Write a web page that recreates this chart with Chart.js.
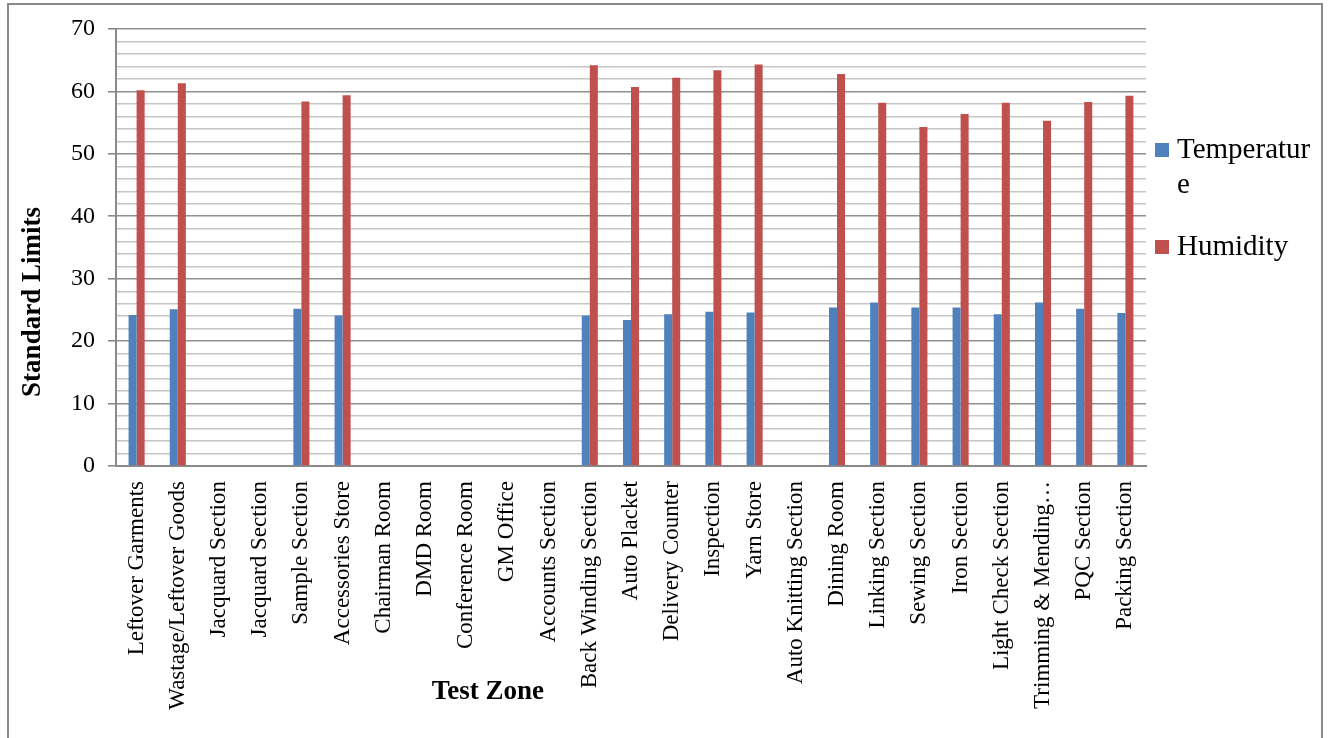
<!DOCTYPE html>
<html>
<head>
<meta charset="utf-8">
<script src="https://cdn.jsdelivr.net/npm/chart.js@4.4.1/dist/chart.umd.min.js"></script>
<style>
  html, body { margin: 0; padding: 0; background: #fff; }
  canvas { display: block; }
</style>
</head>
<body>
<canvas id="limitsChart" width="1331" height="738"></canvas>
<script>
const zones = [
    'Leftover Garments', 'Wastage/Leftover Goods', 'Jacquard Section', 'Jacquard Section',
    'Sample Section', 'Accessories Store', 'Chairman Room', 'DMD Room', 'Conference Room',
    'GM Office', 'Accounts Section', 'Back Winding Section', 'Auto Placket', 'Delivery Counter',
    'Inspection', 'Yarn Store', 'Auto Knitting Section', 'Dining Room', 'Linking Section',
    'Sewing Section', 'Iron Section', 'Light Check Section', 'Trimming & Mending…',
    'PQC Section', 'Packing Section'
];
const temperature = [
    24.2, 25.1, null, null, 25.2, 24.1, null, null, null, null, null, 24.1, 23.4, 24.3,
    24.7, 24.6, null, 25.4, 26.2, 25.4, 25.4, 24.3, 26.2, 25.2, 24.5
];
const humidity = [
    60.2, 61.3, null, null, 58.4, 59.4, null, null, null, null, null, 64.2, 60.7, 62.2,
    63.4, 64.3, null, 62.8, 58.2, 54.3, 56.4, 58.2, 55.3, 58.3, 59.3
];
const yMin = 0, yMax = 70, yStep = 2, yLabelEvery = 10;

const serif = "'Liberation Serif', 'Times New Roman', serif";

// frame, axis titles and the wrapped legend, Excel style
const decorations = {
    id: 'decorations',
    beforeDraw(chart) {
        const ctx = chart.ctx;
        ctx.save();
        ctx.strokeStyle = '#8a8a8a';
        ctx.lineWidth = 2;
        ctx.strokeRect(8, 4, 1314, 800);
        ctx.restore();
    },
    afterDraw(chart) {
        const ctx = chart.ctx;
        const area = chart.chartArea;
        ctx.save();
        ctx.fillStyle = '#000';
        ctx.font = 'bold 27px ' + serif;
        ctx.textAlign = 'center';
        ctx.textBaseline = 'middle';
        ctx.fillText('Test Zone', area.left + (area.right - area.left) * 0.361, 692);
        ctx.translate(33, 302);
        ctx.rotate(-Math.PI / 2);
        ctx.fillText('Standard Limits', 0, 0);
        ctx.restore();

        // legend
        ctx.save();
        ctx.font = '29px ' + serif;
        ctx.textAlign = 'left';
        ctx.textBaseline = 'middle';
        const maxW = 1321 - 1177;
        let y = area.top + 121;
        chart.data.datasets.forEach(ds => {
            const lines = [];
            let cur = '';
            for (const ch of ds.label) {
                if (ctx.measureText(cur + ch).width > maxW && cur) {
                    lines.push(cur);
                    cur = ch;
                } else {
                    cur += ch;
                }
            }
            lines.push(cur);
            ctx.fillStyle = ds.backgroundColor;
            ctx.fillRect(1155, y - 7, 14, 14);
            ctx.fillStyle = '#000';
            lines.forEach((ln, i) => ctx.fillText(ln, 1177, y + i * 35));
            y += lines.length * 35 + 27;
        });
        ctx.restore();
    }
};

const ctx = document.getElementById('limitsChart').getContext('2d');
const limitsChart = new Chart(ctx, {
    type: 'bar',
    data: {
        labels: zones,
        datasets: [
            {
                label: 'Temperature',
                data: temperature,
                backgroundColor: '#4F81BD'
            },
            {
                label: 'Humidity',
                data: humidity,
                backgroundColor: '#C0504D'
            }
        ]
    },
    options: {
        responsive: false,
        animation: false,
        layout: { padding: { left: 0, top: 29, right: 185, bottom: 0 } },
        categoryPercentage: 0.39,
        barPercentage: 1.0,
        plugins: {
            legend: { display: false },
            tooltip: { enabled: false }
        },
        scales: {
            x: {
                afterFit: scale => { scale.height = 272; },
                grid: { display: false, drawTicks: false },
                border: { color: '#8a8a8a', width: 2 },
                ticks: {
                    color: '#000',
                    font: { family: serif, size: 23 },
                    maxRotation: 90,
                    minRotation: 90,
                    autoSkip: false,
                    padding: 15
                }
            },
            y: {
                min: yMin,
                max: yMax,
                afterFit: scale => { scale.width = 116; },
                grid: {
                    color: c => (c.tick.value % yLabelEvery === 0 ? '#8f8f8f' : '#c6c6c6'),
                    lineWidth: c => (c.tick.value % yLabelEvery === 0 ? 1.6 : 1.4),
                    tickColor: c => (c.tick.value % yLabelEvery === 0 ? '#8a8a8a' : 'rgba(0,0,0,0)'),
                    tickLength: 8
                },
                border: { color: '#8a8a8a', width: 2 },
                ticks: {
                    stepSize: yStep,
                    autoSkip: false,
                    color: '#000',
                    font: { family: serif, size: 24 },
                    padding: 13,
                    callback: v => (v % yLabelEvery === 0 ? v : '')
                }
            }
        }
    },
    plugins: [decorations]
});
</script>
</body>
</html>
